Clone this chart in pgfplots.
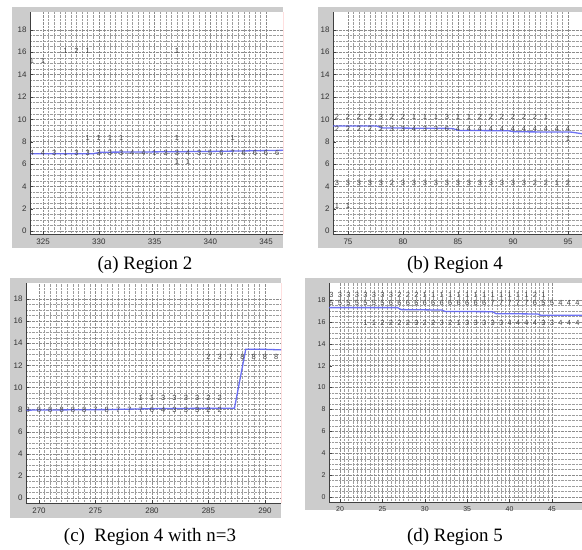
\documentclass[border=0pt]{standalone}
\usepackage{fontspec}
\setmainfont{Liberation Serif}
\setsansfont{Liberation Sans}
\usepackage{pgfplots}
\pgfplotsset{compat=1.18}
\definecolor{figgray}{RGB}{204,204,204}
\definecolor{gridc}{RGB}{140,140,140}
\definecolor{lineblue}{RGB}{95,100,245}
\definecolor{numc}{RGB}{70,70,70}

\pgfplotsset{
  panel/.style={
    scale only axis, anchor=north west,
    axis background/.style={fill=white},
    axis x line*=bottom, axis y line*=left,
    axis line style={black!75, line width=0.6pt},
    tick align=inside, major tick length=3bp, minor tick length=0pt,
    tick style={black!75},
    grid=both,
    major grid style={densely dotted, gridc, line width=0.35pt},
    minor grid style={densely dotted, gridc!85, line width=0.3pt},
    ticklabel style={font=\sffamily\fontsize{8}{8}\selectfont, text=black!80},
    /pgf/number format/assume math mode=true,
    ytick={0,2,...,18}, minor y tick num=3, minor x tick num=9,
    xticklabel style={yshift=-1bp},
  },
  nums/.style={draw=none, mark=none, nodes near coords, point meta=explicit symbolic,
    nodes near coords style={anchor=center, inner sep=0pt,
      font=\sffamily\fontsize{7.5}{7.5}\selectfont, text=numc}},
  blueline/.style={lineblue, line width=1.3pt, opacity=0.9, mark=none},
}

\begin{document}
\begin{tikzpicture}
\path[use as bounding box] (0bp,0bp) rectangle (582bp,-550bp);
% figure backgrounds
\fill[figgray] (12bp,-7bp) rectangle (283bp,-248bp);
\fill[figgray] (318bp,-7bp) rectangle (582bp,-248bp);
\fill[figgray] (10bp,-278bp) rectangle (281bp,-518bp);
\fill[figgray] (305bp,-278bp) rectangle (582bp,-510bp);

% (a) Region 2
\begin{axis}[panel, at={(30bp,-12bp)}, width=253bp, height=222bp,
  xmin=323.83, xmax=346.52, ymin=-0.27, ymax=19.6, xtick={325,330,...,345}]
\addplot[blueline] coordinates {(323.8,6.92) (329.5,6.92) (330.2,7.05) (335,7.08) (340,7.12) (346.6,7.22)};
\addplot[nums] table[meta=l] {
x y l
324 7 4
325 7 4
326 7 3
327 7 1
328 7 3
329 7 3
330 7 3
331 7 3
332 7 3
333 7 4
334 7 4
335 7 1
336 7 3
337 7 3
338 7 4
339 7 3
340 7 5
341 7 6
342 7 7
343 7 6
344 7 6
345 7 6
346 7 6
329 8.3 1
330 8.3 1
331 8.3 1
332 8.3 1
337 8.3 1
342 8.3 1
337 6.2 1
338 6.2 1
324 15.2 1
325 15.2 1
327 16.1 1
328 16.1 2
329 16.1 1
337 16.1 1
};
\draw[red, line width=0.8pt] (rel axis cs:1,0) -- (rel axis cs:1,1);
\end{axis}

% (b) Region 4
\begin{axis}[panel, at={(333bp,-12bp)}, width=249bp, height=222bp,
  xmin=73.64, xmax=96.27, ymin=-0.27, ymax=19.6, xtick={75,80,...,95}]
\addplot[blueline] coordinates {(73.6,9.4) (77.6,9.4) (78.1,9.22) (84.5,9.18) (85.0,9.0) (89.6,8.97) (90.1,8.88) (95.3,8.85) (96.3,8.7)};
\addplot[nums] table[meta=l] {
x y l
74 10.2 2
75 10.2 2
76 10.2 2
77 10.2 2
78 10.2 3
79 10.2 2
80 10.2 2
81 10.2 1
82 10.2 1
83 10.2 1
84 10.2 3
85 10.2 1
86 10.2 1
87 10.2 2
88 10.2 2
89 10.2 2
90 10.2 2
91 10.2 2
92 10.2 2
93 10.2 1
74 9.1 2
75 9.1 2
76 9.1 2
77 9.1 2
78 9.1 2
79 9.1 3
80 9.1 3
81 9.1 4
82 9.1 3
83 9.1 3
84 9.1 6
85 9.1 4
86 9.1 4
87 9.1 4
88 9.1 4
89 9.1 4
90 9.1 4
91 9.1 4
92 9.1 4
93 9.1 4
94 9.1 4
95 9.1 4
95 8.2 1
74 4.3 3
75 4.3 3
76 4.3 3
77 4.3 3
78 4.3 3
79 4.3 2
80 4.3 3
81 4.3 3
82 4.3 3
83 4.3 3
84 4.3 3
85 4.3 3
86 4.3 3
87 4.3 3
88 4.3 3
89 4.3 3
90 4.3 3
91 4.3 3
92 4.3 2
93 4.3 2
94 4.3 1
95 4.3 2
74 2.2 1
75 2.2 1
};
\end{axis}

% (c) Region 4 with n=3
\begin{axis}[panel, at={(26bp,-283bp)}, width=255bp, height=220bp,
  xmin=268.85, xmax=291.42, ymin=-0.45, ymax=19.45, xtick={270,275,...,290}]
\addplot[blueline] coordinates {(268.85,7.95) (276,8.0) (281,8.1) (287.3,8.12) (288.3,13.45) (290,13.45) (291.5,13.4)};
\addplot[nums] table[meta=l] {
x y l
269 8 8
270 8 8
271 8 8
272 8 8
273 8 8
274 8 8
275 8 7
276 8 8
277 8 7
278 8 7
279 8 7
280 8 6
281 8 4
282 8 3
283 8 3
284 8 3
285 8 2
286 8 2
279 9.05 1
280 9.05 1
281 9.05 3
282 9.05 3
283 9.05 3
284 9.05 3
285 9.05 2
286 9.05 2
285 12.75 2
286 12.75 3
287 12.75 7
288 12.75 8
289 12.75 8
290 12.75 8
291 12.75 8
};
\draw[red, line width=0.8pt] (rel axis cs:1,0) -- (rel axis cs:1,1);
\end{axis}

% (d) Region 5
\begin{axis}[panel, at={(329bp,-283bp)}, width=253bp, height=219bp,
  xmin=18.70, xmax=48.54, ymin=-0.46, ymax=19.55, xtick={20,25,...,45},
  ticklabel style={font=\sffamily\fontsize{7}{7}\selectfont}]
\addplot[blueline] coordinates {(18.7,17.3) (26.8,17.3) (27.2,17.12) (32.0,17.08) (32.4,16.95) (38.0,16.93) (38.4,16.75) (43.3,16.72) (43.7,16.6) (48.6,16.6)};
\addplot[nums] table[meta=l] {
x y l
19 18.45 3
20 18.45 3
21 18.45 3
22 18.45 3
23 18.45 3
24 18.45 3
25 18.45 3
26 18.45 3
27 18.45 2
28 18.45 2
29 18.45 2
30 18.45 1
31 18.45 1
32 18.45 1
33 18.45 1
34 18.45 1
35 18.45 1
36 18.45 1
37 18.45 1
38 18.45 1
39 18.45 1
40 18.45 1
41 18.45 1
42 18.45 1
43 18.45 2
44 18.45 1
19 17.7 5
20 17.7 5
21 17.7 5
22 17.7 5
23 17.7 5
24 17.7 5
25 17.7 5
26 17.7 6
27 17.7 6
28 17.7 6
29 17.7 6
30 17.7 6
31 17.7 6
32 17.7 6
33 17.7 6
34 17.7 6
35 17.7 6
36 17.7 6
37 17.7 6
38 17.7 7
39 17.7 7
40 17.7 7
41 17.7 7
42 17.7 7
43 17.7 6
44 17.7 5
45 17.7 5
46 17.7 4
47 17.7 4
48 17.7 4
23 15.93 1
24 15.93 1
25 15.93 2
26 15.93 2
27 15.93 2
28 15.93 2
29 15.93 3
30 15.93 2
31 15.93 2
32 15.93 3
33 15.93 2
34 15.93 1
35 15.93 3
36 15.93 3
37 15.93 3
38 15.93 3
39 15.93 3
40 15.93 4
41 15.93 4
42 15.93 4
43 15.93 4
44 15.93 3
45 15.93 3
46 15.93 4
47 15.93 4
48 15.93 4
};
\end{axis}

% captions
\node[font=\fontsize{19}{22}\selectfont] at (145bp,-265bp) {(a) Region 2};
\node[font=\fontsize{19}{22}\selectfont] at (455bp,-265bp) {(b) Region 4};
\node[font=\fontsize{19}{22}\selectfont] at (150bp,-537bp) {(c)\ \ Region 4 with n=3};
\node[font=\fontsize{19}{22}\selectfont] at (455bp,-537bp) {(d) Region 5};
\end{tikzpicture}
\end{document}
